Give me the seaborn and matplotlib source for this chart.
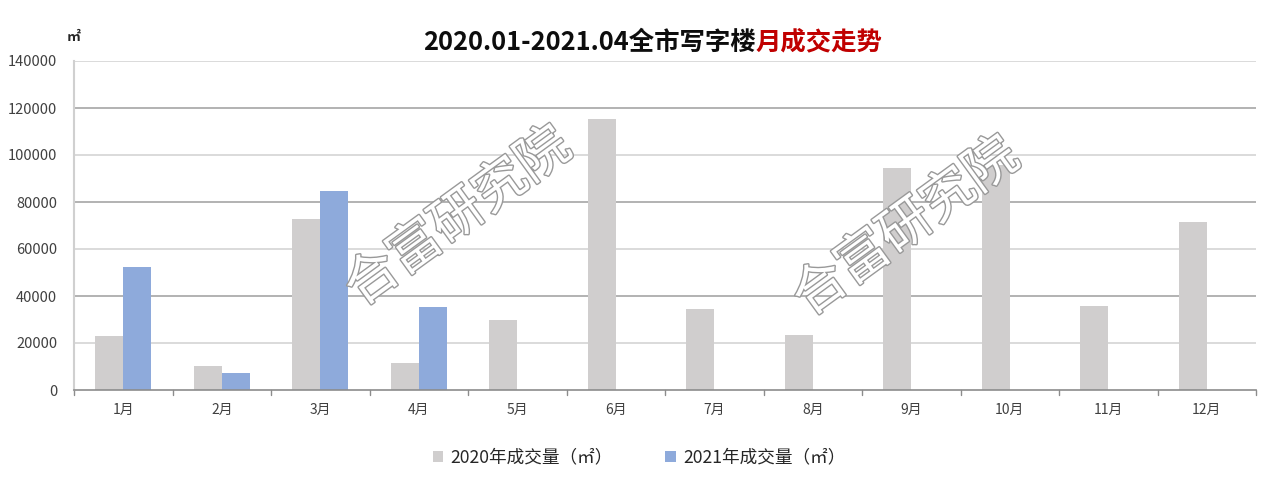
import matplotlib
matplotlib.use("Agg")
import matplotlib.pyplot as plt
import matplotlib.patheffects as pe
import pandas as pd
import seaborn as sns

months = ["1月", "2月", "3月", "4月", "5月", "6月", "7月", "8月", "9月", "10月", "11月", "12月"]
vol_2020 = [23000, 10200, 72700, 11400, 29800, 115200, 34300, 23400, 94400, 95700, 35700, 71700]
vol_2021 = [52400, 7300, 84800, 35200]
series = ["2020年成交量（㎡）", "2021年成交量（㎡）"]
yticks = [0, 20000, 40000, 60000, 80000, 100000, 120000, 140000]

rows = [(m, series[0], v) for m, v in zip(months, vol_2020)]
rows += [(m, series[1], v) for m, v in zip(months, vol_2021)]
df = pd.DataFrame(rows, columns=["month", "series", "value"])

sns.set_theme(style="white")
plt.rcParams["font.family"] = ["Noto Sans CJK SC", "DejaVu Sans"]

fig = plt.figure(figsize=(12.78, 4.84), dpi=100)
ax = fig.add_axes([74 / 1278, 1 - 390 / 484, (1256 - 74) / 1278, (390 - 61) / 484])

sns.barplot(data=df, x="month", y="value", hue="series", order=months, hue_order=series,
            palette=["#d0cece", "#8eaadb"], saturation=1, width=0.57, gap=0,
            linewidth=0, ax=ax, legend=True)

ax.set_ylim(0, 140000)
ax.set_xlim(-0.5, len(months) - 0.5)
ax.set_yticks(yticks)
ax.set_yticklabels([str(t) for t in yticks], fontsize=10.5, color="#404040")
ax.tick_params(axis="y", length=0, pad=12)
ax.tick_params(axis="x", length=0, pad=9, labelsize=10, labelcolor="#404040")
ax.set_xlabel("")
ax.set_ylabel("")

# alternating gridline shades as in the source image
for i, t in enumerate(yticks[1:]):
    ax.axhline(t, color="#d4d4d4" if i % 2 == 0 else "#a6a6a6", lw=1.2, zorder=0)

for s in ["top", "right"]:
    ax.spines[s].set_visible(False)
ax.spines["left"].set_color("#d0d0d0")
ax.spines["left"].set_linewidth(1.5)
ax.spines["bottom"].set_color("#8c8c8c")
ax.spines["bottom"].set_linewidth(1.2)

# category boundary ticks
for b in range(len(months) + 1):
    ax.plot([b - 0.5, b - 0.5], [0, -2300], color="#8c8c8c", lw=1.0, clip_on=False)

leg = ax.legend(loc="upper center", bbox_to_anchor=(0.478, -0.13), ncol=2, frameon=False,
                fontsize=12.7, handlelength=0.6, handleheight=0.6, handletextpad=0.4,
                columnspacing=3.0, labelcolor="#262626")

# title: black part + red part
title_black = "2020.01-2021.04全市写字楼"
title_red = "月成交走势"
t1 = fig.text(0, 1 - 42 / 484, title_black, fontsize=18.3, fontweight="bold", color="#0d0d0d",
              va="center", ha="left")
t2 = fig.text(0, 1 - 42 / 484, title_red, fontsize=18.3, fontweight="bold", color="#c00000",
              va="center", ha="left")
fig.canvas.draw()
r = fig.canvas.get_renderer()
w1 = t1.get_window_extent(r).width
w2 = t2.get_window_extent(r).width
x0 = (653 - (w1 + w2) / 2)
t1.set_x(x0 / 1278)
t2.set_x((x0 + w1) / 1278)

fig.text(67 / 1278, 1 - 37 / 484, "㎡", fontsize=10, fontweight="bold", color="#262626",
         ha="left", va="center")

# watermark
for cx, cy in [(458, 217), (906, 227)]:
    fig.text(cx / 1278, 1 - cy / 484, "合富研究院", fontsize=38, rotation=36, color="white",
             ha="center", va="center", rotation_mode="anchor", zorder=10,
             path_effects=[pe.Stroke(linewidth=2.0, foreground="#999999"), pe.Normal()])

fig.savefig("out.png", dpi=100)
